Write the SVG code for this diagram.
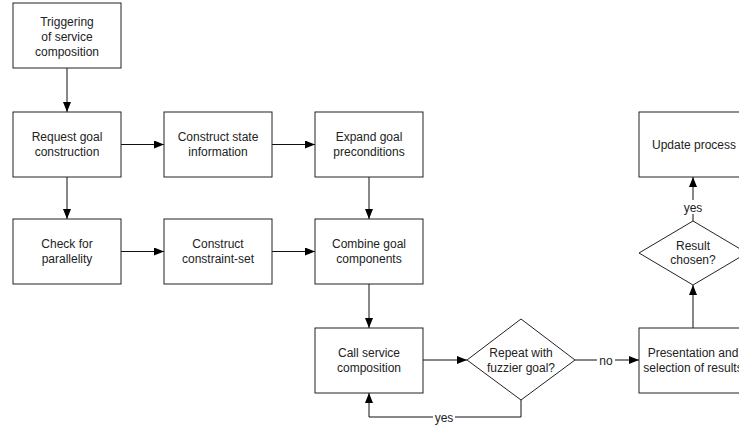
<svg xmlns="http://www.w3.org/2000/svg" width="739" height="428" viewBox="0 0 739 428">
<style>
.box{fill:#fff;stroke:#222;stroke-width:1}
.t{font-family:"Liberation Sans",Arial,sans-serif;font-size:12px;fill:#222;text-anchor:middle}
.c{fill:none;stroke:#111;stroke-width:1}
.lbl{font-family:"Liberation Sans",Arial,sans-serif;font-size:12px;fill:#222;text-anchor:middle}
</style>
<defs>
<marker id="ah" markerUnits="userSpaceOnUse" markerWidth="10" markerHeight="8" refX="10" refY="4" orient="auto">
<path d="M0,0 L10,4 L0,8 z" fill="#000"/>
</marker>
</defs>
<rect width="739" height="428" fill="#fff"/>
<g id="connectors">
<line class="c" x1="67" y1="68" x2="67" y2="112" marker-end="url(#ah)"/>
<line class="c" x1="121" y1="144.5" x2="164" y2="144.5" marker-end="url(#ah)"/>
<line class="c" x1="272" y1="144.5" x2="315" y2="144.5" marker-end="url(#ah)"/>
<line class="c" x1="67" y1="177" x2="67" y2="219" marker-end="url(#ah)"/>
<line class="c" x1="121" y1="251.5" x2="164" y2="251.5" marker-end="url(#ah)"/>
<line class="c" x1="272" y1="251.5" x2="315" y2="251.5" marker-end="url(#ah)"/>
<line class="c" x1="369" y1="177" x2="369" y2="219" marker-end="url(#ah)"/>
<line class="c" x1="369" y1="284" x2="369" y2="328" marker-end="url(#ah)"/>
<line class="c" x1="423" y1="360" x2="467" y2="360" marker-end="url(#ah)"/>
<line class="c" x1="575" y1="360" x2="639" y2="360" marker-end="url(#ah)"/>
<polyline class="c" points="521,400 521,417 369,417 369,393" marker-end="url(#ah)"/>
<line class="c" x1="693" y1="328" x2="693" y2="285" marker-end="url(#ah)"/>
<line class="c" x1="693" y1="221" x2="693" y2="177" marker-end="url(#ah)"/>
<rect x="597" y="353" width="18" height="14" fill="#fff"/>
<text class="lbl" x="606" y="364.5">no</text>
<rect x="433" y="410" width="22" height="14" fill="#fff"/>
<text class="lbl" x="444" y="421.5">yes</text>
<rect x="682" y="200" width="22" height="14" fill="#fff"/>
<text class="lbl" x="693" y="211.5">yes</text>
</g>
<g id="n1"><rect class="box" x="13" y="3" width="108" height="65"/>
<text class="t" x="67" y="26">Triggering</text><text class="t" x="67" y="41">of service</text><text class="t" x="67" y="56">composition</text></g>
<g id="n2"><rect class="box" x="13" y="112" width="108" height="65"/>
<text class="t" x="67" y="141">Request goal</text><text class="t" x="67" y="155.5">construction</text></g>
<g id="n3"><rect class="box" x="164" y="112" width="108" height="65"/>
<text class="t" x="218" y="141">Construct state</text><text class="t" x="218" y="155.5">information</text></g>
<g id="n4"><rect class="box" x="315" y="112" width="108" height="65"/>
<text class="t" x="369" y="141">Expand goal</text><text class="t" x="369" y="155.5">preconditions</text></g>
<g id="n5"><rect class="box" x="13" y="219" width="108" height="65"/>
<text class="t" x="67" y="248">Check for</text><text class="t" x="67" y="262.5">parallelity</text></g>
<g id="n6"><rect class="box" x="164" y="219" width="108" height="65"/>
<text class="t" x="218" y="248">Construct</text><text class="t" x="218" y="262.5">constraint-set</text></g>
<g id="n7"><rect class="box" x="315" y="219" width="108" height="65"/>
<text class="t" x="369" y="248">Combine goal</text><text class="t" x="369" y="262.5">components</text></g>
<g id="n8"><rect class="box" x="315" y="328" width="108" height="65"/>
<text class="t" x="369" y="357">Call service</text><text class="t" x="369" y="371.5">composition</text></g>
<g id="n9"><polygon class="box" points="521,319 575,360 521,400 467,360"/>
<text class="t" x="521" y="357">Repeat with</text><text class="t" x="521" y="371.5">fuzzier goal?</text></g>
<g id="n10"><rect class="box" x="639" y="328" width="108" height="65"/>
<text class="t" x="693" y="357">Presentation and</text><text class="t" x="693" y="371.5">selection of results</text></g>
<g id="n11"><polygon class="box" points="693,221 747,253 693,285 639,253"/>
<text class="t" x="693" y="249.5">Result</text><text class="t" x="693" y="264">chosen?</text></g>
<g id="n12"><rect class="box" x="639" y="112" width="108" height="65"/>
<text class="t" x="694" y="148.5">Update process</text></g>
</svg>
